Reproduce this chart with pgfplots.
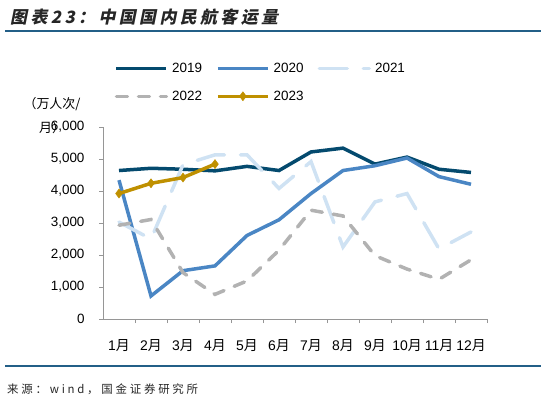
\documentclass[border=0pt]{standalone}
\usepackage{pgfplots}
\pgfplotsset{compat=1.18}
\usepackage{fontspec}
\setmainfont{Liberation Sans}
\newfontfamily\cjk{Noto Sans CJK SC}
\newfontfamily\titlefont[FakeSlant=0.2,LetterSpace=20]{Noto Sans CJK SC}
\newfontfamily\srcfont[LetterSpace=24]{Noto Sans CJK SC}

\definecolor{c2019}{RGB}{4,74,110}
\definecolor{c2020}{RGB}{74,134,196}
\definecolor{c2021}{RGB}{207,226,243}
\definecolor{c2022}{RGB}{178,178,178}
\definecolor{c2023}{RGB}{191,144,0}
\definecolor{rulecol}{RGB}{35,95,135}
\definecolor{axisgray}{RGB}{150,150,150}

\begin{document}
\begin{tikzpicture}
\path[use as bounding box] (0,0) rectangle (541bp,-404bp);

% title and rules
\node[anchor=west, inner sep=0pt, text=black!85] at (10bp,-17bp)
  {\titlefont\bfseries\fontsize{17}{19}\selectfont 图表23：中国国内民航客运量};
\draw[rulecol, line width=1.3bp] (5bp,-31bp) -- (541bp,-31bp);
\draw[rulecol, line width=1.3bp] (5bp,-366bp) -- (541bp,-366bp);
\node[anchor=west, inner sep=0pt, text=black!85] at (7bp,-389bp)
  {\srcfont\fontsize{11.5}{13}\selectfont 来源：wind，国金证券研究所};

% y unit
\node[align=center, inner sep=0pt, font=\fontsize{13}{24}\selectfont] at (52bp,-116bp)
  {\cjk （万人次/\\\cjk 月）};

\begin{axis}[
    at={(103bp,-319bp)}, anchor=south west,
    scale only axis,
    width=384bp, height=192bp,
    xmin=-0.5, xmax=11.5,
    ymin=0, ymax=6000,
    axis x line=bottom, axis y line=left,
    axis line style={draw=axisgray, line width=0.9bp, -},
    tick align=outside,
    major tick length=4bp,
    tick style={draw=axisgray, line width=0.9bp},
    xtick={0.5,1.5,...,11.5},
    xticklabels={},
    extra x ticks={0,1,...,11},
    extra x tick labels={1{\cjk 月},2{\cjk 月},3{\cjk 月},4{\cjk 月},5{\cjk 月},6{\cjk 月},
                         7{\cjk 月},8{\cjk 月},9{\cjk 月},10{\cjk 月},11{\cjk 月},12{\cjk 月}},
    extra x tick style={major tick length=0pt},
    xticklabel style={font=\fontsize{14}{16}\selectfont, yshift=-17bp, inner xsep=0pt},
    ytick={0,1000,...,6000},
    scaled ticks=false,
    /pgf/number format/1000 sep={,},
    /pgf/number format/assume math mode=true,
    yticklabel style={font=\fontsize{13.5}{16}\selectfont, xshift=-11bp},
    legend columns=3,
    legend cell align=left,
    legend style={draw=none, fill=none, inner sep=0pt,
                  at={(axis description cs:0.03,1.345)}, anchor=north west,
                  font=\fontsize{13.5}{16}\selectfont,
                  /tikz/every even column/.append style={column sep=10bp},
                  row sep=13bp, nodes={inner xsep=4bp}},
    legend image code/.code={\draw[mark repeat=2,mark phase=2,#1]
        plot coordinates {(0bp,0bp) (25bp,0bp) (50bp,0bp)};},
    every axis plot/.append style={line width=3.5bp},
]
% 2019
\addplot[c2019, no markers] coordinates {(0,4640) (1,4710) (2,4680) (3,4630) (4,4770) (5,4640) (6,5220) (7,5340) (8,4840) (9,5060) (10,4680) (11,4580)};
% 2020
\addplot[c2020, no markers] coordinates {(0,4340) (1,720) (2,1510) (3,1660) (4,2610) (5,3100) (6,3920) (7,4640) (8,4790) (9,5030) (10,4450) (11,4210)};
% 2021
\addplot[c2021, no markers, line cap=round, dash pattern=on 28bp off 16bp] coordinates {(0,3030) (1,2500) (2,4820) (3,5130) (4,5130) (5,4080) (6,4920) (7,2250) (8,3660) (9,3920) (10,2190) (11,2720)};
% 2022
\addplot[c2022, no markers, line cap=round, dash pattern=on 11bp off 11bp] coordinates {(0,2930) (1,3110) (2,1450) (3,770) (4,1190) (5,2150) (6,3400) (7,3220) (8,1980) (9,1560) (10,1240) (11,1850)};
% 2023
\addplot[c2023, mark=diamond*, mark size=4.5bp, mark options={solid, line width=0.5bp}] coordinates {(0,3920) (1,4240) (2,4420) (3,4840)};
\legend{2019,2020,2021,2022,2023}
\end{axis}
\end{tikzpicture}
\end{document}
